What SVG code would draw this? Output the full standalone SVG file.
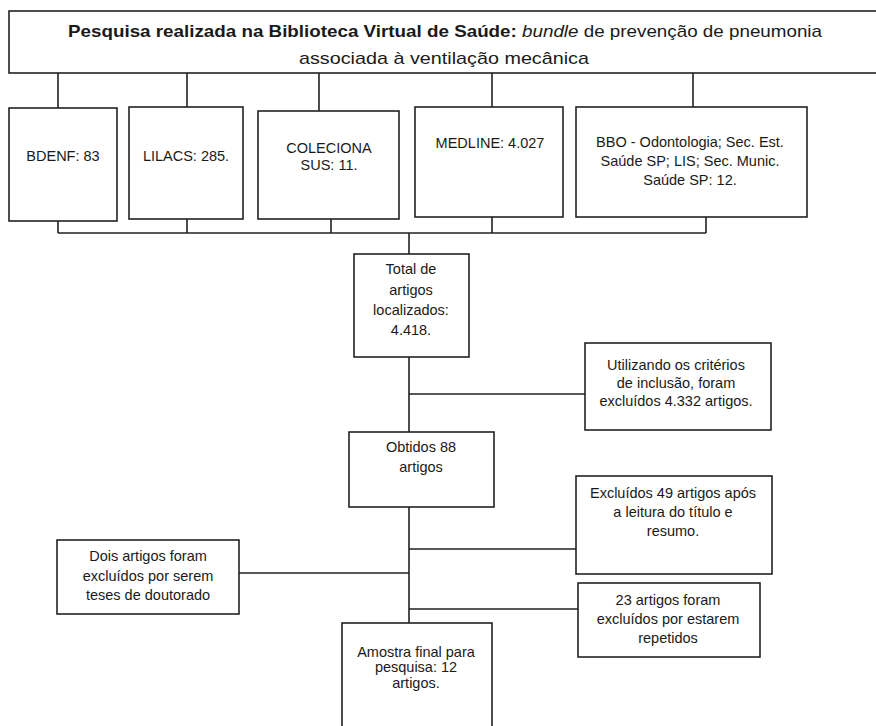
<svg xmlns="http://www.w3.org/2000/svg" width="876" height="726" viewBox="0 0 876 726">
<style>
.box{fill:#fff;stroke:#222;stroke-width:1.6}
.ln{fill:none;stroke:#222;stroke-width:1.6}
.t{font-family:"Liberation Sans",Arial,sans-serif;font-size:14.5px;fill:#1a1a1a;text-anchor:middle}
.ti{font-family:"Liberation Sans",Arial,sans-serif;font-size:17px;fill:#1a1a1a}
</style>
<rect width="876" height="726" fill="#fff"/>
<g id="connectors">
<path class="ln" d="M58 73V108M187 73V107M319 73V111M492 73V107M693 73V107"/>
<path class="ln" d="M58 221V233M187 219V233M331 219V233M492 217V233M706 217V233M58 233H706"/>
<path class="ln" d="M409 233V254M409 357V432M409 394H585"/>
<path class="ln" d="M409 507V623M409 549H576M409 573H239M409 609H578"/>
</g>
<g id="title">
<rect class="box" x="9" y="11" width="880" height="62"/>
<text class="ti" x="68" y="37" textLength="754" lengthAdjust="spacingAndGlyphs"><tspan font-weight="bold">Pesquisa realizada na Biblioteca Virtual de Saúde:</tspan> <tspan font-style="italic">bundle</tspan> de prevenção de pneumonia</text>
<text class="ti" x="299" y="64" textLength="290" lengthAdjust="spacingAndGlyphs">associada à ventilação mecânica</text>
</g>
<g id="bdenf">
<rect class="box" x="9" y="108" width="108" height="113"/>
<text class="t" x="63" y="161">BDENF: 83</text>
</g>
<g id="lilacs">
<rect class="box" x="129" y="107" width="114" height="112"/>
<text class="t" x="186" y="161">LILACS: 285.</text>
</g>
<g id="coleciona">
<rect class="box" x="258" y="111" width="141" height="108"/>
<text class="t" x="329" y="153">COLECIONA</text>
<text class="t" x="329" y="170">SUS: 11.</text>
</g>
<g id="medline">
<rect class="box" x="415" y="107" width="148" height="110"/>
<text class="t" x="490" y="148">MEDLINE: 4.027</text>
</g>
<g id="bbo">
<rect class="box" x="576" y="107" width="231" height="110"/>
<text class="t" x="690" y="147">BBO - Odontologia; Sec. Est.</text>
<text class="t" x="690" y="166">Saúde SP; LIS; Sec. Munic.</text>
<text class="t" x="690" y="185">Saúde SP: 12.</text>
</g>
<g id="total">
<rect class="box" x="354" y="254" width="115" height="103"/>
<text class="t" x="411" y="274">Total de</text>
<text class="t" x="411" y="295">artigos</text>
<text class="t" x="411" y="315">localizados:</text>
<text class="t" x="411" y="335">4.418.</text>
</g>
<g id="utilizando">
<rect class="box" x="585" y="343" width="186" height="87"/>
<text class="t" x="676" y="370">Utilizando os critérios</text>
<text class="t" x="676" y="388">de inclusão, foram</text>
<text class="t" x="676" y="406">excluídos 4.332 artigos.</text>
</g>
<g id="obtidos">
<rect class="box" x="349" y="432" width="145" height="75"/>
<text class="t" x="421" y="452">Obtidos 88</text>
<text class="t" x="421" y="472">artigos</text>
</g>
<g id="excluidos49">
<rect class="box" x="576" y="476" width="196" height="98"/>
<text class="t" x="673" y="498">Excluídos 49 artigos após</text>
<text class="t" x="673" y="517">a leitura do título e</text>
<text class="t" x="673" y="536">resumo.</text>
</g>
<g id="dois">
<rect class="box" x="57" y="540" width="182" height="74"/>
<text class="t" x="148" y="561">Dois artigos foram</text>
<text class="t" x="148" y="581">excluídos por serem</text>
<text class="t" x="148" y="600">teses de doutorado</text>
</g>
<g id="repetidos">
<rect class="box" x="578" y="583" width="182" height="74"/>
<text class="t" x="668" y="605">23 artigos foram</text>
<text class="t" x="668" y="624">excluídos por estarem</text>
<text class="t" x="668" y="643">repetidos</text>
</g>
<g id="amostra">
<rect class="box" x="342" y="623" width="150" height="120"/>
<text class="t" x="416" y="657">Amostra final para</text>
<text class="t" x="416" y="672">pesquisa: 12</text>
<text class="t" x="416" y="688">artigos.</text>
</g>
</svg>
